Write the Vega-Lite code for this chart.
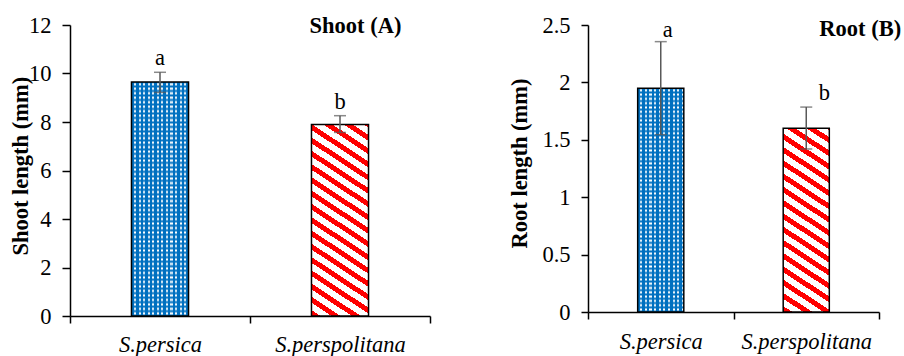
{
"$schema": "https://vega.github.io/schema/vega-lite/v6.json",
"background": "white",
"padding": {"left": 9, "top": 14, "right": 0, "bottom": 0},
"autosize": {"type": "pad"},
"bounds": "flush",
"spacing": 158,
"config": {
  "view": {"stroke": null},
  "axis": {"domainColor": "#000", "tickColor": "#000", "domainWidth": 1.5, "tickWidth": 1.5, "grid": false}
},
"hconcat": [
{
  "width": 360, "height": 291,
  "data": {"values": [
    {"species": "S.persica", "value": 9.65, "lo": 9.22, "hi": 10.05, "letter": "a"},
    {"species": "S.perspolitana", "value": 7.9, "lo": 7.57, "hi": 8.26, "letter": "b"}
  ]},
  "encoding": {
    "x": {"field": "species", "type": "nominal", "sort": null, "scale": {"domain": ["S.persica", "S.perspolitana"], "paddingInner": 0, "paddingOuter": 0}, "axis": {"title": null, "labelAngle": 0, "labelFont": "Liberation Serif", "labelFontSize": 22.5, "labelColor": "#000", "labelFontStyle": "italic", "tickBand": "extent", "tickSize": 7, "labelPadding": 10}},
    "y": {"field": "value", "type": "quantitative", "title": "Shoot length (mm)", "scale": {"domain": [0, 12], "nice": false}, "axis": {"values": [0, 2, 4, 6, 8, 10, 12], "format": "~g", "labelFont": "Liberation Serif", "titleFont": "Liberation Serif", "labelFontSize": 22.5, "titleFontSize": 22.5, "titleFontWeight": "bold", "labelColor": "#000", "titleColor": "#000", "tickSize": 8, "labelPadding": 11, "titleX": -37.3, "titleY": 140.7}}
  },
  "layer": [
    {"transform": [{"filter": "datum.species === 'S.persica'"}],
     "mark": {"type": "bar", "width": {"band": 0.317}, "fill": {"gradient": "linear", "x1": 0, "y1": 0, "x2": 0, "y2": 1, "stops": [
{"offset":0,"color":"#0070c0"},{"offset":0.0096,"color":"#ffffff"},{"offset":0.0192,"color":"#0070c0"},{"offset":0.0288,"color":"#ffffff"},{"offset":0.0384,"color":"#0070c0"},{"offset":0.048,"color":"#ffffff"},{"offset":0.0576,"color":"#0070c0"},{"offset":0.0672,"color":"#ffffff"},{"offset":0.0768,"color":"#0070c0"},{"offset":0.0864,"color":"#ffffff"},
{"offset":0.096,"color":"#0070c0"},{"offset":0.1056,"color":"#ffffff"},{"offset":0.1152,"color":"#0070c0"},{"offset":0.1248,"color":"#ffffff"},{"offset":0.1344,"color":"#0070c0"},{"offset":0.144,"color":"#ffffff"},{"offset":0.1536,"color":"#0070c0"},{"offset":0.1632,"color":"#ffffff"},{"offset":0.1728,"color":"#0070c0"},{"offset":0.1824,"color":"#ffffff"},
{"offset":0.192,"color":"#0070c0"},{"offset":0.2016,"color":"#ffffff"},{"offset":0.2112,"color":"#0070c0"},{"offset":0.2208,"color":"#ffffff"},{"offset":0.2304,"color":"#0070c0"},{"offset":0.24,"color":"#ffffff"},{"offset":0.2496,"color":"#0070c0"},{"offset":0.2592,"color":"#ffffff"},{"offset":0.2688,"color":"#0070c0"},{"offset":0.2784,"color":"#ffffff"},
{"offset":0.288,"color":"#0070c0"},{"offset":0.2976,"color":"#ffffff"},{"offset":0.3072,"color":"#0070c0"},{"offset":0.3168,"color":"#ffffff"},{"offset":0.3264,"color":"#0070c0"},{"offset":0.336,"color":"#ffffff"},{"offset":0.3456,"color":"#0070c0"},{"offset":0.3552,"color":"#ffffff"},{"offset":0.3648,"color":"#0070c0"},{"offset":0.3744,"color":"#ffffff"},
{"offset":0.384,"color":"#0070c0"},{"offset":0.3936,"color":"#ffffff"},{"offset":0.4032,"color":"#0070c0"},{"offset":0.4128,"color":"#ffffff"},{"offset":0.4224,"color":"#0070c0"},{"offset":0.432,"color":"#ffffff"},{"offset":0.4416,"color":"#0070c0"},{"offset":0.4512,"color":"#ffffff"},{"offset":0.4608,"color":"#0070c0"},{"offset":0.4704,"color":"#ffffff"},
{"offset":0.48,"color":"#0070c0"},{"offset":0.4896,"color":"#ffffff"},{"offset":0.4992,"color":"#0070c0"},{"offset":0.5088,"color":"#ffffff"},{"offset":0.5184,"color":"#0070c0"},{"offset":0.528,"color":"#ffffff"},{"offset":0.5376,"color":"#0070c0"},{"offset":0.5472,"color":"#ffffff"},{"offset":0.5568,"color":"#0070c0"},{"offset":0.5664,"color":"#ffffff"},
{"offset":0.576,"color":"#0070c0"},{"offset":0.5856,"color":"#ffffff"},{"offset":0.5952,"color":"#0070c0"},{"offset":0.6048,"color":"#ffffff"},{"offset":0.6144,"color":"#0070c0"},{"offset":0.624,"color":"#ffffff"},{"offset":0.6336,"color":"#0070c0"},{"offset":0.6432,"color":"#ffffff"},{"offset":0.6528,"color":"#0070c0"},{"offset":0.6624,"color":"#ffffff"},
{"offset":0.672,"color":"#0070c0"},{"offset":0.6816,"color":"#ffffff"},{"offset":0.6912,"color":"#0070c0"},{"offset":0.7008,"color":"#ffffff"},{"offset":0.7104,"color":"#0070c0"},{"offset":0.72,"color":"#ffffff"},{"offset":0.7296,"color":"#0070c0"},{"offset":0.7392,"color":"#ffffff"},{"offset":0.7488,"color":"#0070c0"},{"offset":0.7584,"color":"#ffffff"},
{"offset":0.768,"color":"#0070c0"},{"offset":0.7776,"color":"#ffffff"},{"offset":0.7872,"color":"#0070c0"},{"offset":0.7968,"color":"#ffffff"},{"offset":0.8064,"color":"#0070c0"},{"offset":0.816,"color":"#ffffff"},{"offset":0.8256,"color":"#0070c0"},{"offset":0.8352,"color":"#ffffff"},{"offset":0.8448,"color":"#0070c0"},{"offset":0.8544,"color":"#ffffff"},
{"offset":0.864,"color":"#0070c0"},{"offset":0.8736,"color":"#ffffff"},{"offset":0.8832,"color":"#0070c0"},{"offset":0.8928,"color":"#ffffff"},{"offset":0.9024,"color":"#0070c0"},{"offset":0.912,"color":"#ffffff"},{"offset":0.9216,"color":"#0070c0"},{"offset":0.9312,"color":"#ffffff"},{"offset":0.9408,"color":"#0070c0"},{"offset":0.9504,"color":"#ffffff"},
{"offset":0.96,"color":"#0070c0"},{"offset":0.9696,"color":"#ffffff"},{"offset":0.9792,"color":"#0070c0"},{"offset":0.9888,"color":"#ffffff"},{"offset":0.9984,"color":"#0070c0"}
     ]}}},
    {"transform": [{"filter": "datum.species === 'S.persica'"}],
     "mark": {"type": "bar", "width": {"band": 0.317}, "stroke": "#000", "strokeWidth": 1.5, "fill": {"gradient": "linear", "x1": 0, "y1": 0, "x2": 1, "y2": 0, "stops": [
{"offset":0,"color":"#0070c0"},{"offset":0.044,"color":"#0070c0"},{"offset":0.044,"color":"rgba(0,112,192,0)"},{"offset":0.08,"color":"rgba(0,112,192,0)"},
{"offset":0.08,"color":"#0070c0"},{"offset":0.124,"color":"#0070c0"},{"offset":0.124,"color":"rgba(0,112,192,0)"},{"offset":0.16,"color":"rgba(0,112,192,0)"},
{"offset":0.16,"color":"#0070c0"},{"offset":0.204,"color":"#0070c0"},{"offset":0.204,"color":"rgba(0,112,192,0)"},{"offset":0.24,"color":"rgba(0,112,192,0)"},
{"offset":0.24,"color":"#0070c0"},{"offset":0.284,"color":"#0070c0"},{"offset":0.284,"color":"rgba(0,112,192,0)"},{"offset":0.32,"color":"rgba(0,112,192,0)"},
{"offset":0.32,"color":"#0070c0"},{"offset":0.364,"color":"#0070c0"},{"offset":0.364,"color":"rgba(0,112,192,0)"},{"offset":0.4,"color":"rgba(0,112,192,0)"},
{"offset":0.4,"color":"#0070c0"},{"offset":0.444,"color":"#0070c0"},{"offset":0.444,"color":"rgba(0,112,192,0)"},{"offset":0.48,"color":"rgba(0,112,192,0)"},
{"offset":0.48,"color":"#0070c0"},{"offset":0.524,"color":"#0070c0"},{"offset":0.524,"color":"rgba(0,112,192,0)"},{"offset":0.56,"color":"rgba(0,112,192,0)"},
{"offset":0.56,"color":"#0070c0"},{"offset":0.604,"color":"#0070c0"},{"offset":0.604,"color":"rgba(0,112,192,0)"},{"offset":0.64,"color":"rgba(0,112,192,0)"},
{"offset":0.64,"color":"#0070c0"},{"offset":0.684,"color":"#0070c0"},{"offset":0.684,"color":"rgba(0,112,192,0)"},{"offset":0.72,"color":"rgba(0,112,192,0)"},
{"offset":0.72,"color":"#0070c0"},{"offset":0.764,"color":"#0070c0"},{"offset":0.764,"color":"rgba(0,112,192,0)"},{"offset":0.8,"color":"rgba(0,112,192,0)"},
{"offset":0.8,"color":"#0070c0"},{"offset":0.844,"color":"#0070c0"},{"offset":0.844,"color":"rgba(0,112,192,0)"},{"offset":0.88,"color":"rgba(0,112,192,0)"},
{"offset":0.88,"color":"#0070c0"},{"offset":0.924,"color":"#0070c0"},{"offset":0.924,"color":"rgba(0,112,192,0)"},{"offset":0.96,"color":"rgba(0,112,192,0)"},
{"offset":0.96,"color":"#0070c0"},{"offset":1,"color":"#0070c0"}
     ]}}},
    {"transform": [{"filter": "datum.species === 'S.perspolitana'"}],
     "mark": {"type": "bar", "width": {"band": 0.317}, "stroke": "#000", "strokeWidth": 1.5, "fill": {"gradient": "linear", "x1": 0, "y1": 1, "x2": 0.2257, "y2": -0.1517, "stops": [
{"offset":0,"color":"#ff0000"},{"offset":0.026,"color":"#ff0000"},{"offset":0.026,"color":"#ffffff"},{"offset":0.058,"color":"#ffffff"},
{"offset":0.058,"color":"#ff0000"},{"offset":0.084,"color":"#ff0000"},{"offset":0.084,"color":"#ffffff"},{"offset":0.116,"color":"#ffffff"},
{"offset":0.116,"color":"#ff0000"},{"offset":0.142,"color":"#ff0000"},{"offset":0.142,"color":"#ffffff"},{"offset":0.174,"color":"#ffffff"},
{"offset":0.174,"color":"#ff0000"},{"offset":0.2,"color":"#ff0000"},{"offset":0.2,"color":"#ffffff"},{"offset":0.232,"color":"#ffffff"},
{"offset":0.232,"color":"#ff0000"},{"offset":0.258,"color":"#ff0000"},{"offset":0.258,"color":"#ffffff"},{"offset":0.29,"color":"#ffffff"},
{"offset":0.29,"color":"#ff0000"},{"offset":0.316,"color":"#ff0000"},{"offset":0.316,"color":"#ffffff"},{"offset":0.348,"color":"#ffffff"},
{"offset":0.348,"color":"#ff0000"},{"offset":0.374,"color":"#ff0000"},{"offset":0.374,"color":"#ffffff"},{"offset":0.406,"color":"#ffffff"},
{"offset":0.406,"color":"#ff0000"},{"offset":0.432,"color":"#ff0000"},{"offset":0.432,"color":"#ffffff"},{"offset":0.464,"color":"#ffffff"},
{"offset":0.464,"color":"#ff0000"},{"offset":0.49,"color":"#ff0000"},{"offset":0.49,"color":"#ffffff"},{"offset":0.522,"color":"#ffffff"},
{"offset":0.522,"color":"#ff0000"},{"offset":0.548,"color":"#ff0000"},{"offset":0.548,"color":"#ffffff"},{"offset":0.58,"color":"#ffffff"},
{"offset":0.58,"color":"#ff0000"},{"offset":0.606,"color":"#ff0000"},{"offset":0.606,"color":"#ffffff"},{"offset":0.638,"color":"#ffffff"},
{"offset":0.638,"color":"#ff0000"},{"offset":0.664,"color":"#ff0000"},{"offset":0.664,"color":"#ffffff"},{"offset":0.696,"color":"#ffffff"},
{"offset":0.696,"color":"#ff0000"},{"offset":0.722,"color":"#ff0000"},{"offset":0.722,"color":"#ffffff"},{"offset":0.754,"color":"#ffffff"},
{"offset":0.754,"color":"#ff0000"},{"offset":0.78,"color":"#ff0000"},{"offset":0.78,"color":"#ffffff"},{"offset":0.812,"color":"#ffffff"},
{"offset":0.812,"color":"#ff0000"},{"offset":0.838,"color":"#ff0000"},{"offset":0.838,"color":"#ffffff"},{"offset":0.87,"color":"#ffffff"},
{"offset":0.87,"color":"#ff0000"},{"offset":0.896,"color":"#ff0000"},{"offset":0.896,"color":"#ffffff"},{"offset":0.928,"color":"#ffffff"},
{"offset":0.928,"color":"#ff0000"},{"offset":0.954,"color":"#ff0000"},{"offset":0.954,"color":"#ffffff"},{"offset":0.986,"color":"#ffffff"},
{"offset":0.986,"color":"#ff0000"},{"offset":1,"color":"#ff0000"}
     ]}}},
    {"mark": {"type": "rule", "color": "#595959", "strokeWidth": 1.5},
     "encoding": {"y": {"field": "lo", "type": "quantitative", "title": "Shoot length (mm)"}, "y2": {"field": "hi"}}},
    {"mark": {"type": "tick", "size": 12, "thickness": 1.5, "color": "#595959"},
     "encoding": {"y": {"field": "hi", "type": "quantitative", "title": "Shoot length (mm)"}}},
    {"mark": {"type": "tick", "size": 12, "thickness": 1.5, "color": "#595959"},
     "encoding": {"y": {"field": "lo", "type": "quantitative", "title": "Shoot length (mm)"}}},
    {"mark": {"type": "text", "font": "Liberation Serif", "fontSize": 22.5, "color": "#000", "baseline": "alphabetic", "dy": -7},
     "encoding": {"y": {"field": "hi", "type": "quantitative", "title": "Shoot length (mm)"}, "text": {"field": "letter"}}},
    {"transform": [{"filter": "datum.species === 'S.perspolitana'"}],
     "mark": {"type": "text", "font": "Liberation Serif", "fontSize": 22.5, "color": "#000", "baseline": "alphabetic", "fontWeight": "bold", "dx": 15.5, "dy": 8},
     "encoding": {"y": {"datum": 12}, "text": {"value": "Shoot (A)"}}}
  ]
},
{
  "width": 291, "height": 287,
  "data": {"values": [
    {"species": "S.persica", "value": 1.95, "lo": 1.545, "hi": 2.355, "letter": "a"},
    {"species": "S.perspolitana", "value": 1.6, "lo": 1.42, "hi": 1.785, "letter": "b"}
  ]},
  "encoding": {
    "x": {"field": "species", "type": "nominal", "sort": null, "scale": {"domain": ["S.persica", "S.perspolitana"], "paddingInner": 0, "paddingOuter": 0}, "axis": {"title": null, "labelAngle": 0, "labelFont": "Liberation Serif", "labelFontSize": 22.5, "labelColor": "#000", "labelFontStyle": "italic", "tickBand": "extent", "tickSize": 7, "labelPadding": 11}},
    "y": {"field": "value", "type": "quantitative", "title": "Root length (mm)", "scale": {"domain": [0, 2.5], "nice": false}, "axis": {"values": [0, 0.5, 1, 1.5, 2, 2.5], "format": "~g", "labelFont": "Liberation Serif", "titleFont": "Liberation Serif", "labelFontSize": 22.5, "titleFontSize": 22.5, "titleFontWeight": "bold", "labelColor": "#000", "titleColor": "#000", "tickSize": 7, "labelPadding": 11, "titleX": -57, "titleY": 138}}
  },
  "layer": [
    {"transform": [{"filter": "datum.species === 'S.persica'"}],
     "mark": {"type": "bar", "width": {"band": 0.317}, "fill": {"gradient": "linear", "x1": 0, "y1": 0, "x2": 0, "y2": 1, "stops": [
{"offset":0,"color":"#0070c0"},{"offset":0.0096,"color":"#ffffff"},{"offset":0.0192,"color":"#0070c0"},{"offset":0.0288,"color":"#ffffff"},{"offset":0.0384,"color":"#0070c0"},{"offset":0.048,"color":"#ffffff"},{"offset":0.0576,"color":"#0070c0"},{"offset":0.0672,"color":"#ffffff"},{"offset":0.0768,"color":"#0070c0"},{"offset":0.0864,"color":"#ffffff"},
{"offset":0.096,"color":"#0070c0"},{"offset":0.1056,"color":"#ffffff"},{"offset":0.1152,"color":"#0070c0"},{"offset":0.1248,"color":"#ffffff"},{"offset":0.1344,"color":"#0070c0"},{"offset":0.144,"color":"#ffffff"},{"offset":0.1536,"color":"#0070c0"},{"offset":0.1632,"color":"#ffffff"},{"offset":0.1728,"color":"#0070c0"},{"offset":0.1824,"color":"#ffffff"},
{"offset":0.192,"color":"#0070c0"},{"offset":0.2016,"color":"#ffffff"},{"offset":0.2112,"color":"#0070c0"},{"offset":0.2208,"color":"#ffffff"},{"offset":0.2304,"color":"#0070c0"},{"offset":0.24,"color":"#ffffff"},{"offset":0.2496,"color":"#0070c0"},{"offset":0.2592,"color":"#ffffff"},{"offset":0.2688,"color":"#0070c0"},{"offset":0.2784,"color":"#ffffff"},
{"offset":0.288,"color":"#0070c0"},{"offset":0.2976,"color":"#ffffff"},{"offset":0.3072,"color":"#0070c0"},{"offset":0.3168,"color":"#ffffff"},{"offset":0.3264,"color":"#0070c0"},{"offset":0.336,"color":"#ffffff"},{"offset":0.3456,"color":"#0070c0"},{"offset":0.3552,"color":"#ffffff"},{"offset":0.3648,"color":"#0070c0"},{"offset":0.3744,"color":"#ffffff"},
{"offset":0.384,"color":"#0070c0"},{"offset":0.3936,"color":"#ffffff"},{"offset":0.4032,"color":"#0070c0"},{"offset":0.4128,"color":"#ffffff"},{"offset":0.4224,"color":"#0070c0"},{"offset":0.432,"color":"#ffffff"},{"offset":0.4416,"color":"#0070c0"},{"offset":0.4512,"color":"#ffffff"},{"offset":0.4608,"color":"#0070c0"},{"offset":0.4704,"color":"#ffffff"},
{"offset":0.48,"color":"#0070c0"},{"offset":0.4896,"color":"#ffffff"},{"offset":0.4992,"color":"#0070c0"},{"offset":0.5088,"color":"#ffffff"},{"offset":0.5184,"color":"#0070c0"},{"offset":0.528,"color":"#ffffff"},{"offset":0.5376,"color":"#0070c0"},{"offset":0.5472,"color":"#ffffff"},{"offset":0.5568,"color":"#0070c0"},{"offset":0.5664,"color":"#ffffff"},
{"offset":0.576,"color":"#0070c0"},{"offset":0.5856,"color":"#ffffff"},{"offset":0.5952,"color":"#0070c0"},{"offset":0.6048,"color":"#ffffff"},{"offset":0.6144,"color":"#0070c0"},{"offset":0.624,"color":"#ffffff"},{"offset":0.6336,"color":"#0070c0"},{"offset":0.6432,"color":"#ffffff"},{"offset":0.6528,"color":"#0070c0"},{"offset":0.6624,"color":"#ffffff"},
{"offset":0.672,"color":"#0070c0"},{"offset":0.6816,"color":"#ffffff"},{"offset":0.6912,"color":"#0070c0"},{"offset":0.7008,"color":"#ffffff"},{"offset":0.7104,"color":"#0070c0"},{"offset":0.72,"color":"#ffffff"},{"offset":0.7296,"color":"#0070c0"},{"offset":0.7392,"color":"#ffffff"},{"offset":0.7488,"color":"#0070c0"},{"offset":0.7584,"color":"#ffffff"},
{"offset":0.768,"color":"#0070c0"},{"offset":0.7776,"color":"#ffffff"},{"offset":0.7872,"color":"#0070c0"},{"offset":0.7968,"color":"#ffffff"},{"offset":0.8064,"color":"#0070c0"},{"offset":0.816,"color":"#ffffff"},{"offset":0.8256,"color":"#0070c0"},{"offset":0.8352,"color":"#ffffff"},{"offset":0.8448,"color":"#0070c0"},{"offset":0.8544,"color":"#ffffff"},
{"offset":0.864,"color":"#0070c0"},{"offset":0.8736,"color":"#ffffff"},{"offset":0.8832,"color":"#0070c0"},{"offset":0.8928,"color":"#ffffff"},{"offset":0.9024,"color":"#0070c0"},{"offset":0.912,"color":"#ffffff"},{"offset":0.9216,"color":"#0070c0"},{"offset":0.9312,"color":"#ffffff"},{"offset":0.9408,"color":"#0070c0"},{"offset":0.9504,"color":"#ffffff"},
{"offset":0.96,"color":"#0070c0"},{"offset":0.9696,"color":"#ffffff"},{"offset":0.9792,"color":"#0070c0"},{"offset":0.9888,"color":"#ffffff"},{"offset":0.9984,"color":"#0070c0"}
     ]}}},
    {"transform": [{"filter": "datum.species === 'S.persica'"}],
     "mark": {"type": "bar", "width": {"band": 0.317}, "stroke": "#000", "strokeWidth": 1.5, "fill": {"gradient": "linear", "x1": 0, "y1": 0, "x2": 1, "y2": 0, "stops": [
{"offset":0,"color":"#0070c0"},{"offset":0.055,"color":"#0070c0"},{"offset":0.055,"color":"rgba(0,112,192,0)"},{"offset":0.1,"color":"rgba(0,112,192,0)"},
{"offset":0.1,"color":"#0070c0"},{"offset":0.155,"color":"#0070c0"},{"offset":0.155,"color":"rgba(0,112,192,0)"},{"offset":0.2,"color":"rgba(0,112,192,0)"},
{"offset":0.2,"color":"#0070c0"},{"offset":0.255,"color":"#0070c0"},{"offset":0.255,"color":"rgba(0,112,192,0)"},{"offset":0.3,"color":"rgba(0,112,192,0)"},
{"offset":0.3,"color":"#0070c0"},{"offset":0.355,"color":"#0070c0"},{"offset":0.355,"color":"rgba(0,112,192,0)"},{"offset":0.4,"color":"rgba(0,112,192,0)"},
{"offset":0.4,"color":"#0070c0"},{"offset":0.455,"color":"#0070c0"},{"offset":0.455,"color":"rgba(0,112,192,0)"},{"offset":0.5,"color":"rgba(0,112,192,0)"},
{"offset":0.5,"color":"#0070c0"},{"offset":0.555,"color":"#0070c0"},{"offset":0.555,"color":"rgba(0,112,192,0)"},{"offset":0.6,"color":"rgba(0,112,192,0)"},
{"offset":0.6,"color":"#0070c0"},{"offset":0.655,"color":"#0070c0"},{"offset":0.655,"color":"rgba(0,112,192,0)"},{"offset":0.7,"color":"rgba(0,112,192,0)"},
{"offset":0.7,"color":"#0070c0"},{"offset":0.755,"color":"#0070c0"},{"offset":0.755,"color":"rgba(0,112,192,0)"},{"offset":0.8,"color":"rgba(0,112,192,0)"},
{"offset":0.8,"color":"#0070c0"},{"offset":0.855,"color":"#0070c0"},{"offset":0.855,"color":"rgba(0,112,192,0)"},{"offset":0.9,"color":"rgba(0,112,192,0)"},
{"offset":0.9,"color":"#0070c0"},{"offset":0.955,"color":"#0070c0"},{"offset":0.955,"color":"rgba(0,112,192,0)"},{"offset":1,"color":"rgba(0,112,192,0)"}
     ]}}},
    {"transform": [{"filter": "datum.species === 'S.perspolitana'"}],
     "mark": {"type": "bar", "width": {"band": 0.317}, "stroke": "#000", "strokeWidth": 1.5, "fill": {"gradient": "linear", "x1": 0, "y1": 1, "x2": 0.1871, "y2": -0.1341, "stops": [
{"offset":0,"color":"#ff0000"},{"offset":0.028,"color":"#ff0000"},{"offset":0.028,"color":"#ffffff"},{"offset":0.062,"color":"#ffffff"},
{"offset":0.062,"color":"#ff0000"},{"offset":0.09,"color":"#ff0000"},{"offset":0.09,"color":"#ffffff"},{"offset":0.124,"color":"#ffffff"},
{"offset":0.124,"color":"#ff0000"},{"offset":0.152,"color":"#ff0000"},{"offset":0.152,"color":"#ffffff"},{"offset":0.186,"color":"#ffffff"},
{"offset":0.186,"color":"#ff0000"},{"offset":0.214,"color":"#ff0000"},{"offset":0.214,"color":"#ffffff"},{"offset":0.248,"color":"#ffffff"},
{"offset":0.248,"color":"#ff0000"},{"offset":0.276,"color":"#ff0000"},{"offset":0.276,"color":"#ffffff"},{"offset":0.31,"color":"#ffffff"},
{"offset":0.31,"color":"#ff0000"},{"offset":0.338,"color":"#ff0000"},{"offset":0.338,"color":"#ffffff"},{"offset":0.372,"color":"#ffffff"},
{"offset":0.372,"color":"#ff0000"},{"offset":0.4,"color":"#ff0000"},{"offset":0.4,"color":"#ffffff"},{"offset":0.434,"color":"#ffffff"},
{"offset":0.434,"color":"#ff0000"},{"offset":0.462,"color":"#ff0000"},{"offset":0.462,"color":"#ffffff"},{"offset":0.496,"color":"#ffffff"},
{"offset":0.496,"color":"#ff0000"},{"offset":0.524,"color":"#ff0000"},{"offset":0.524,"color":"#ffffff"},{"offset":0.558,"color":"#ffffff"},
{"offset":0.558,"color":"#ff0000"},{"offset":0.586,"color":"#ff0000"},{"offset":0.586,"color":"#ffffff"},{"offset":0.62,"color":"#ffffff"},
{"offset":0.62,"color":"#ff0000"},{"offset":0.648,"color":"#ff0000"},{"offset":0.648,"color":"#ffffff"},{"offset":0.682,"color":"#ffffff"},
{"offset":0.682,"color":"#ff0000"},{"offset":0.71,"color":"#ff0000"},{"offset":0.71,"color":"#ffffff"},{"offset":0.744,"color":"#ffffff"},
{"offset":0.744,"color":"#ff0000"},{"offset":0.772,"color":"#ff0000"},{"offset":0.772,"color":"#ffffff"},{"offset":0.806,"color":"#ffffff"},
{"offset":0.806,"color":"#ff0000"},{"offset":0.834,"color":"#ff0000"},{"offset":0.834,"color":"#ffffff"},{"offset":0.868,"color":"#ffffff"},
{"offset":0.868,"color":"#ff0000"},{"offset":0.896,"color":"#ff0000"},{"offset":0.896,"color":"#ffffff"},{"offset":0.93,"color":"#ffffff"},
{"offset":0.93,"color":"#ff0000"},{"offset":0.958,"color":"#ff0000"},{"offset":0.958,"color":"#ffffff"},{"offset":0.992,"color":"#ffffff"},
{"offset":0.992,"color":"#ff0000"},{"offset":1,"color":"#ff0000"}
     ]}}},
    {"mark": {"type": "rule", "color": "#595959", "strokeWidth": 1.5},
     "encoding": {"y": {"field": "lo", "type": "quantitative", "title": "Root length (mm)"}, "y2": {"field": "hi"}}},
    {"mark": {"type": "tick", "size": 12, "thickness": 1.5, "color": "#595959"},
     "encoding": {"y": {"field": "hi", "type": "quantitative", "title": "Root length (mm)"}}},
    {"mark": {"type": "tick", "size": 12, "thickness": 1.5, "color": "#595959"},
     "encoding": {"y": {"field": "lo", "type": "quantitative", "title": "Root length (mm)"}}},
    {"transform": [{"filter": "datum.species === 'S.persica'"}],
     "mark": {"type": "text", "font": "Liberation Serif", "fontSize": 22.5, "color": "#000", "baseline": "alphabetic", "dx": 7, "dy": -5},
     "encoding": {"y": {"field": "hi", "type": "quantitative", "title": "Root length (mm)"}, "text": {"field": "letter"}}},
    {"transform": [{"filter": "datum.species === 'S.perspolitana'"}],
     "mark": {"type": "text", "font": "Liberation Serif", "fontSize": 22.5, "color": "#000", "baseline": "alphabetic", "dx": 18, "dy": -7},
     "encoding": {"y": {"field": "hi", "type": "quantitative", "title": "Root length (mm)"}, "text": {"field": "letter"}}},
    {"transform": [{"filter": "datum.species === 'S.perspolitana'"}],
     "mark": {"type": "text", "font": "Liberation Serif", "fontSize": 22.5, "color": "#000", "baseline": "alphabetic", "fontWeight": "bold", "dx": 54, "dy": 11},
     "encoding": {"y": {"datum": 2.5}, "text": {"value": "Root (B)"}}}
  ]
}
]
}
